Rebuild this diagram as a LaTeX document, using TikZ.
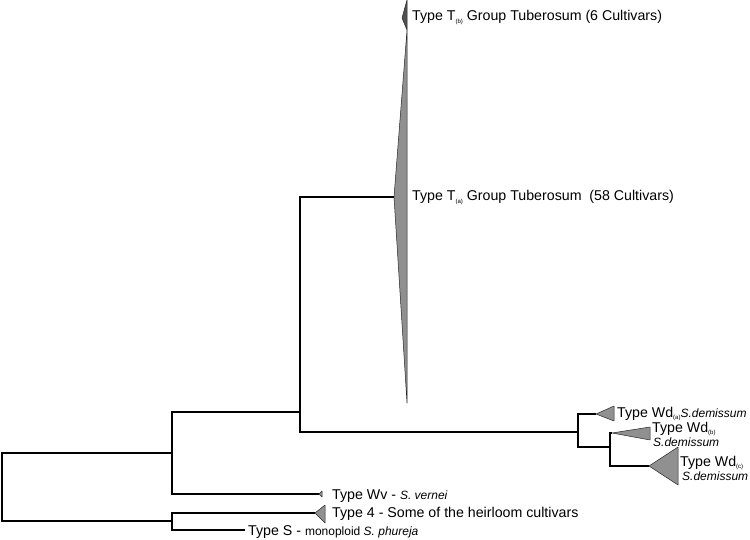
\documentclass[tikz,border=0pt]{standalone}
\usepackage{fontspec}
\setmainfont{Liberation Sans}
\usetikzlibrary{positioning}
\definecolor{cladegrey}{HTML}{909090}
\definecolor{cladedark}{HTML}{505050}
\newcommand{\cladesub}[1]{\raisebox{-0.35ex}{\fontsize{6}{6}\selectfont #1}}

\begin{document}
\begin{tikzpicture}[x=1pt, y=-1pt,
  branch/.style={line width=1.9pt, line join=miter},
  clade/.style={fill=cladegrey, draw=black!85, line width=0.5pt, line join=round},
  lbl/.style={inner sep=0pt, anchor=base west, font=\fontsize{14.2}{14}\selectfont},
  spec/.style={inner sep=0pt, anchor=base west, font=\fontsize{12}{12}\selectfont\itshape}]
\useasboundingbox (0,0) rectangle (750,540);
% internal nodes and tips
\coordinate (r) at (2,487);
\coordinate (a) at (172,453);
\coordinate (c) at (172,521);
\coordinate (b) at (300,412);
\coordinate (wd) at (578,432);
\coordinate (wdbc) at (610,447);
\coordinate (ta) at (394,197);
\coordinate (tb) at (402,18);
\coordinate (wda) at (596,414);
\coordinate (wdb) at (612,433);
\coordinate (wdc) at (649,466);
\coordinate (wv) at (319,494);
\coordinate (t4) at (315,513);
\coordinate (ts) at (245,530);
% branches
\draw[branch] (r) |- (a);
\draw[branch] (r) |- (c);
\draw[branch] (a) |- (b);
\draw[branch] (a) |- (wv);
\draw[branch] (b) |- (ta);
\draw[branch] (b) |- (wd);
\draw[branch] (wd) |- (wda);
\draw[branch] (wd) |- (wdbc);
\draw[branch] (wdbc) |- (wdb);
\draw[branch] (wdbc) |- (wdc);
\draw[branch] (c) |- (t4);
\draw[branch] (c) |- (ts);
% collapsed clades
\draw[clade] (ta) -- (407,30) -- (407,403) -- cycle;
\draw[clade, fill=cladedark] (tb) -- (407,0) -- (407,30) -- cycle;
\draw[clade] (wda) -- ++(18,-8) -- ++(0,15) -- cycle;
\draw[clade] (wdb) -- ++(38,-6) -- ++(0,13) -- cycle;
\draw[clade] (wdc) -- ++(29,-19) -- ++(0,38) -- cycle;
\draw[clade] (wv) -- ++(3,-3) -- ++(0,6) -- cycle;
\draw[clade] (t4) -- ++(10,-8) -- ++(0,18) -- cycle;
% labels
\node[lbl] (ltb) at (412,21) {Type T\cladesub{(b)} Group Tuberosum (6 Cultivars)};
\node[lbl] (lta) at (412,201) {Type T\cladesub{(a)} Group Tuberosum\ \ (58 Cultivars)};
\node[lbl] (lwda) at (617,417) {Type Wd\cladesub{(a)}{\fontsize{12}{12}\selectfont\itshape S.demissum}};
\node[lbl] (lwdb) at (652,432) {Type Wd\cladesub{(b)}};
\node[spec] (lwdb2) at (653,446) {S.demissum};
\node[lbl] (lwdc) at (680,466) {Type Wd\cladesub{(c)}};
\node[spec] (lwdc2) at (682,480) {S.demissum};
\node[lbl] (lwv) at (332,499) {Type Wv - {\fontsize{12}{12}\selectfont\itshape S. vernei}};
\node[lbl] (lt4) at (332,517) {Type 4 - Some of the heirloom cultivars};
\node[lbl] (lts) at (248,535) {Type S - {\fontsize{12}{12}\selectfont monoploid \itshape S. phureja}};
\end{tikzpicture}
\end{document}
